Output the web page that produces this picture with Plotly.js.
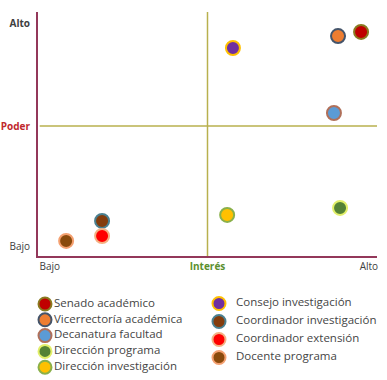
<!DOCTYPE html>
<html><head><meta charset="utf-8">
<script src="https://cdn.plot.ly/plotly-3.0.1.min.js"></script>
<style>html,body{margin:0;padding:0;background:#fff}#c{width:387px;height:380px}</style>
</head><body><div id="c"></div>
<script>
// ---- data ----
const names = ["Senado académico","Vicerrectoría académica","Decanatura facultad","Dirección programa","Dirección investigación",
               "Consejo investigación","Coordinador investigación","Coordinador extensión","Docente programa"];
const interes = [9.53, 8.85, 8.73, 8.91, 5.58, 5.75, 1.89, 1.89, 0.83];
const poder   = [8.62, 8.46, 5.50, 1.85, 1.58, 8.00, 1.35, 0.77, 0.58];
const fillColors = ["#c00000","#ed7d31","#5b9bd5","#548235","#ffc000","#7030a0","#843c0c","#ff0000","#8a4a0c"];
const lineColors = ["#8a7a20","#44546a","#b0705a","#e2ef6a","#8ab04a","#ffc000","#4a8090","#f4b183","#f4a070"];
const xTickVals = [0.35, 5, 9.76];
const xTickText = ["Bajo", "<b><span style='color:#5a8f2e'>Interés</span></b>", "Alto"];
const yTickVals = [0.35, 5, 8.95];
const yTickText = ["Bajo", "<b><span style='color:#c0282d'>Poder</span></b>", "<b>Alto</b>"];

// ---- layout geometry (pixels) ----
const W = 387, H = 380, mL = 38, mR = 10, mT = 12, mB = 5;
const plotBottomPx = 256;
const areaH = H - mT - mB;
const mainDomainBottom = (H - mB - plotBottomPx) / areaH;
const yMax = 9.385, xMax = 10;

const traces = [];
// main scatter points
for (let i = 0; i < names.length; i++) {
  traces.push({
    type: "scatter", mode: "markers", x: [interes[i]], y: [poder[i]], name: names[i],
    xaxis: "x", yaxis: "y", showlegend: false, cliponaxis: false,
    marker: { size: 14, color: fillColors[i], line: { color: lineColors[i], width: 2 } },
    hoverinfo: "name"
  });
}
// legend (drawn on a pixel-scaled hidden axis)
const legMX = [], legMY = [], legTX = [], legTY = [];
for (let i = 0; i < names.length; i++) {
  const col = i < 5 ? 0 : 1;
  const row = col === 0 ? i : i - 5;
  if (col === 0) { legMX.push(45); legTX.push(54); legMY.push(304 + 15.8 * row); }
  else { legMX.push(219); legTX.push(236); legMY.push(303.5 + 18 * row); }
  legTY.push(legMY[i]);
}
traces.push({
  type: "scatter", mode: "markers", x: legMX, y: legMY, xaxis: "x2", yaxis: "y2",
  showlegend: false, hoverinfo: "skip", cliponaxis: false,
  marker: { size: 13, color: fillColors, line: { color: lineColors, width: 2 } }
});
traces.push({
  type: "scatter", mode: "text", x: legTX, y: legTY, text: names, xaxis: "x2", yaxis: "y2",
  textposition: "middle right", showlegend: false, hoverinfo: "skip", cliponaxis: false,
  textfont: { family: "Open Sans", size: 11.5, color: "#454545" }
});

const axisLine = "#93385a";
const crossColor = "#b8b04e";
const layout = {
  width: W, height: H, margin: { l: mL, r: mR, t: mT, b: mB },
  paper_bgcolor: "#fff", plot_bgcolor: "#fff",
  font: { family: "Open Sans", size: 10, color: "#404040" },
  xaxis: {
    domain: [0, 1], range: [0, xMax], anchor: "y", showgrid: false, zeroline: false,
    showline: true, linecolor: axisLine, linewidth: 2,
    tickvals: xTickVals, ticktext: xTickText, ticks: "", fixedrange: true
  },
  yaxis: {
    domain: [mainDomainBottom, 1], range: [0, yMax], anchor: "x", showgrid: false, zeroline: false,
    showline: true, linecolor: axisLine, linewidth: 2, ticklabelstandoff: 4,
    tickvals: yTickVals, ticktext: yTickText, ticks: "", fixedrange: true
  },
  xaxis2: { domain: [0, 1], range: [mL, W - mR], anchor: "y2", visible: false, fixedrange: true },
  yaxis2: { domain: [0, mainDomainBottom], range: [H - mB, plotBottomPx], anchor: "x2", visible: false, fixedrange: true },
  shapes: [
    { type: "line", xref: "x", yref: "y", x0: 5, x1: 5, y0: 0, y1: yMax, line: { color: crossColor, width: 1.5 }, layer: "below" },
    { type: "line", xref: "x", yref: "y", x0: 0.05, x1: xMax, y0: 5, y1: 5, line: { color: crossColor, width: 1.5 }, layer: "below" }
  ]
};
Plotly.newPlot("c", traces, layout, { displayModeBar: false, staticPlot: true });
</script></body></html>
